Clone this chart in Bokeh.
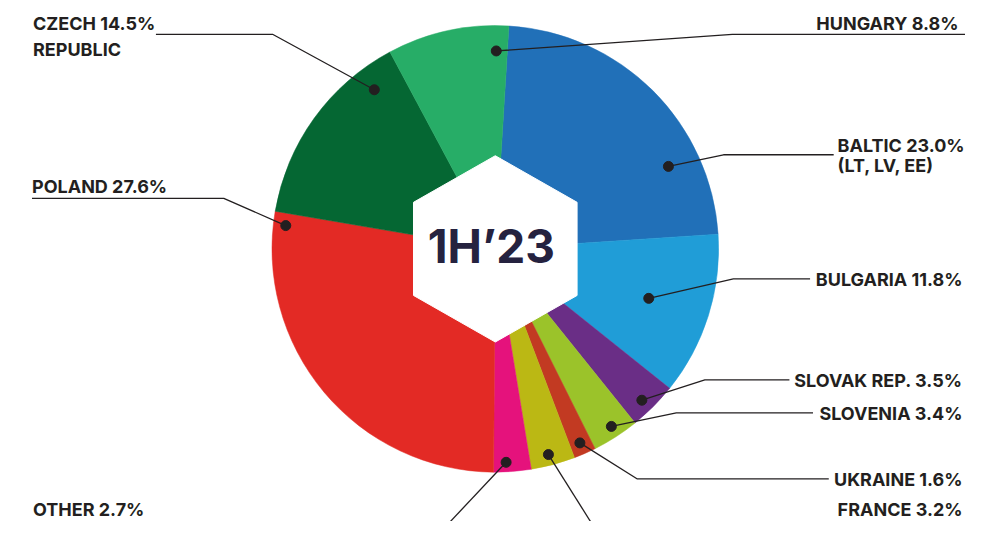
import math
from bokeh.plotting import figure
from bokeh.models import Range1d, ColumnDataSource
from bokeh.core.properties import value
from bokeh.embed import file_html
from bokeh.resources import INLINE

# ---- data (clockwise from just right of 12 o'clock) ----
countries = ["BALTIC", "BULGARIA", "SLOVAK REP.", "SLOVENIA", "UKRAINE",
             "FRANCE", "OTHER", "POLAND", "CZECH", "HUNGARY"]
shares = [23.0, 11.8, 3.5, 3.4, 1.6, 3.2, 2.7, 27.6, 14.5, 8.8]
second_lines = ["(LT, LV, EE)", "", "", "", "", "", "", "", "REPUBLIC", ""]
colors = ["#2170b8", "#209dd7", "#6a2e86", "#9bc32a", "#c23a22",
          "#bbb814", "#e5127c", "#e32a25", "#056733", "#27ad67"]
center_title = "1H\u201923"

# ---- layout (reference pixel coordinates, y downward) ----
CX, CY, R = 503, 256, 227
START_DEG = 3.5          # first slice boundary, clockwise from top
HEX_R = 96
TEXT_COLOR = "#231f20"
FONT = "Inter"
FS_PX = 18.0
TITLE_PX = 46.0
YSCALE = 521 / 537


def shift(px):
    # compensate the renderer's baseline placement
    return 0.36 * px / YSCALE


# label layout: (anchor x, baseline y, align, dot (x,y), elbow points)
label_layout = {
    "BALTIC":      dict(x=851, y=156, align="left",  dot=(679, 171), path=[(735, 159), (847, 159)], y2=177),
    "BULGARIA":    dict(x=978, y=294, align="right", dot=(659, 307), path=[(745, 287), (823, 287)]),
    "SLOVAK REP.": dict(x=978, y=398, align="right", dot=(652, 412), path=[(716, 391), (802, 391)]),
    "SLOVENIA":    dict(x=978, y=432, align="right", dot=(621, 439), path=[(687, 425), (826, 425)]),
    "UKRAINE":     dict(x=978, y=500, align="right", dot=(589, 456), path=[(647, 493), (842, 493)]),
    "FRANCE":      dict(x=978, y=531, align="right", dot=(557, 468), path=[(614, 560)]),
    "OTHER":       dict(x=33,  y=531, align="left",  dot=(514, 476), path=[(436, 560)]),
    "POLAND":      dict(x=32,  y=198, align="left",  dot=(290, 232), path=[(227, 204), (32, 204)]),
    "CZECH":       dict(x=33,  y=30,  align="left",  dot=(380, 92),  path=[(277, 35), (158, 35)], y2=57),
    "HUNGARY":     dict(x=974, y=30,  align="right", dot=(504, 52),  path=[(744, 35), (981, 35)]),
}

p = figure(width=965, height=521, x_range=Range1d(0, 981), y_range=Range1d(537, 0),
           output_backend="svg", toolbar_location=None, min_border=0)
p.axis.visible = False
p.grid.visible = False
p.outline_line_color = None
p.background_fill_color = "white"

# ---- wedges ----
total = sum(shares)
starts, ends = [], []
acc = START_DEG
for s in shares:
    a0 = acc
    a1 = acc + s / total * 360.0
    starts.append(math.radians(90 - a0))
    ends.append(math.radians(90 - a1))
    acc = a1

wsrc = ColumnDataSource(dict(x=[CX] * len(shares), y=[CY] * len(shares),
                             start=starts, end=ends, color=colors))
p.wedge(x="x", y="y", radius=R, start_angle="start", end_angle="end",
        direction="clock", fill_color="color", line_color="color", line_width=0.5,
        source=wsrc)

# ---- central hexagon ----
hx = [CX + HEX_R * math.cos(math.radians(90 + 60 * k)) for k in range(6)]
hy = [CY - HEX_R * math.sin(math.radians(90 + 60 * k)) for k in range(6)]
p.patch(hx, hy, fill_color="white", line_color="white", line_width=1)
p.text(x=[499], y=[270 - shift(TITLE_PX)], text=[center_title], text_font=value(FONT),
       text_font_style="bold", text_font_size=f"{TITLE_PX}px", text_color="#25223f",
       text_align="center", text_baseline="alphabetic")

# ---- leader lines, dots, labels ----
lxs, lys, dx, dy = [], [], [], []
tx, ty, tt, ta = [], [], [], []
for name, share, extra in zip(countries, shares, second_lines):
    L = label_layout[name]
    pts = [L["dot"]] + L["path"]
    lxs.append([q[0] for q in pts])
    lys.append([q[1] for q in pts])
    dx.append(L["dot"][0])
    dy.append(L["dot"][1])
    tx.append(L["x"]); ty.append(L["y"] - shift(FS_PX)); tt.append(f"{name} {share:.1f}%"); ta.append(L["align"])
    if extra:
        tx.append(L["x"]); ty.append(L["y2"] - shift(FS_PX)); tt.append(extra); ta.append(L["align"])

p.multi_line(xs=lxs, ys=lys, line_color=TEXT_COLOR, line_width=1.3)
p.scatter(x=dx, y=dy, size=10, fill_color=TEXT_COLOR, line_color=TEXT_COLOR)

tsrc = ColumnDataSource(dict(x=tx, y=ty, text=tt, align=ta))
p.text(x="x", y="y", text="text", text_align="align", source=tsrc,
       text_font=value(FONT), text_font_style="bold", text_font_size=f"{FS_PX}px",
       text_color=TEXT_COLOR, text_baseline="alphabetic")

open("out.html", "w").write(file_html(p, INLINE))
